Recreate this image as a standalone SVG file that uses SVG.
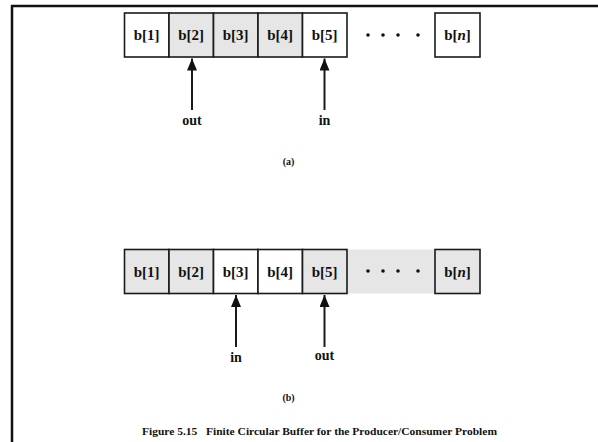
<svg xmlns="http://www.w3.org/2000/svg" width="598" height="442" viewBox="0 0 598 442">
<style>
.cell{stroke:#1a1a1a;stroke-width:1.6}
.w{fill:#ffffff}
.g{fill:#e6e6e6}
.t{font-family:"Liberation Serif","Times New Roman",serif;font-weight:bold;font-size:15px;fill:#111;text-anchor:middle}
.lbl{font-family:"Liberation Serif","Times New Roman",serif;font-weight:bold;font-size:14px;fill:#111;text-anchor:middle}
.sm{font-family:"Liberation Serif","Times New Roman",serif;font-weight:bold;font-size:10px;fill:#111;text-anchor:middle}
.dot{fill:#111}
.conn line{stroke:#1a1a1a;stroke-width:2}
</style>
<defs>
<marker id="ah" viewBox="0 0 12 10" refX="12" refY="5" markerWidth="12" markerHeight="10" markerUnits="userSpaceOnUse" orient="auto">
<path d="M0,0 L12,5 L0,10 Z" fill="#111"/>
</marker>
</defs>
<rect width="598" height="442" fill="#fff"/>
<g id="frame">
<line x1="11" y1="6" x2="598" y2="6" stroke="#111" stroke-width="2.5"/>
<line x1="12" y1="5" x2="12" y2="442" stroke="#111" stroke-width="2.5"/>
</g>

<!-- (a) -->
<g id="a-b1"><rect class="cell w" x="124.5" y="13" width="44.5" height="44"/><text class="t" x="146.7" y="40">b[1]</text></g>
<g id="a-b2"><rect class="cell g" x="169" y="13" width="44.5" height="44"/><text class="t" x="191.2" y="40">b[2]</text></g>
<g id="a-b3"><rect class="cell g" x="213.5" y="13" width="44.5" height="44"/><text class="t" x="235.7" y="40">b[3]</text></g>
<g id="a-b4"><rect class="cell g" x="258" y="13" width="44.5" height="44"/><text class="t" x="280.2" y="40">b[4]</text></g>
<g id="a-b5"><rect class="cell w" x="302.5" y="13" width="44.5" height="44"/><text class="t" x="324.7" y="40">b[5]</text></g>
<g id="a-dots"><circle class="dot" cx="368" cy="35" r="1.8"/><circle class="dot" cx="383" cy="35" r="1.8"/><circle class="dot" cx="398" cy="35" r="1.8"/><circle class="dot" cx="418" cy="35" r="1.8"/></g>
<g id="a-bn"><rect class="cell w" x="435" y="13" width="45" height="44"/><text class="t" x="457.5" y="40">b[<tspan font-style="italic">n</tspan>]</text></g>
<g id="a-out"><text class="lbl" x="192" y="124.5">out</text></g>
<g id="a-in"><text class="lbl" x="324.5" y="124.5">in</text></g>
<g id="a-cap"><text class="sm" x="288.5" y="165">(a)</text></g>

<!-- (b) -->
<g id="b-band"><rect x="347" y="249.5" width="88" height="44" fill="#e6e6e6"/></g>
<g id="b-b1"><rect class="cell g" x="124.5" y="249.5" width="44.5" height="44"/><text class="t" x="146.7" y="276.5">b[1]</text></g>
<g id="b-b2"><rect class="cell g" x="169" y="249.5" width="44.5" height="44"/><text class="t" x="191.2" y="276.5">b[2]</text></g>
<g id="b-b3"><rect class="cell w" x="213.5" y="249.5" width="44.5" height="44"/><text class="t" x="235.7" y="276.5">b[3]</text></g>
<g id="b-b4"><rect class="cell w" x="258" y="249.5" width="44.5" height="44"/><text class="t" x="280.2" y="276.5">b[4]</text></g>
<g id="b-b5"><rect class="cell g" x="302.5" y="249.5" width="44.5" height="44"/><text class="t" x="324.7" y="276.5">b[5]</text></g>
<g id="b-dots"><circle class="dot" cx="368" cy="271" r="1.8"/><circle class="dot" cx="383" cy="271" r="1.8"/><circle class="dot" cx="398" cy="271" r="1.8"/><circle class="dot" cx="418" cy="271" r="1.8"/></g>
<g id="b-bn"><rect class="cell g" x="435" y="249.5" width="45" height="44"/><text class="t" x="457.5" y="276.5">b[<tspan font-style="italic">n</tspan>]</text></g>
<g id="b-in"><text class="lbl" x="236" y="362">in</text></g>
<g id="b-out"><text class="lbl" x="324.5" y="359.5">out</text></g>
<g id="b-cap"><text class="sm" x="288.5" y="401">(b)</text></g>

<g id="connectors" class="conn">
<line x1="192" y1="110" x2="192" y2="58.5" marker-end="url(#ah)"/>
<line x1="324.5" y1="110" x2="324.5" y2="58.5" marker-end="url(#ah)"/>
<line x1="236" y1="347" x2="236" y2="295" marker-end="url(#ah)"/>
<line x1="324.5" y1="347" x2="324.5" y2="295" marker-end="url(#ah)"/>
</g>

<g id="caption"><text class="sm" x="319.5" y="435" textLength="355" lengthAdjust="spacingAndGlyphs" xml:space="preserve">Figure 5.15   Finite Circular Buffer for the Producer/Consumer Problem</text></g>
</svg>
